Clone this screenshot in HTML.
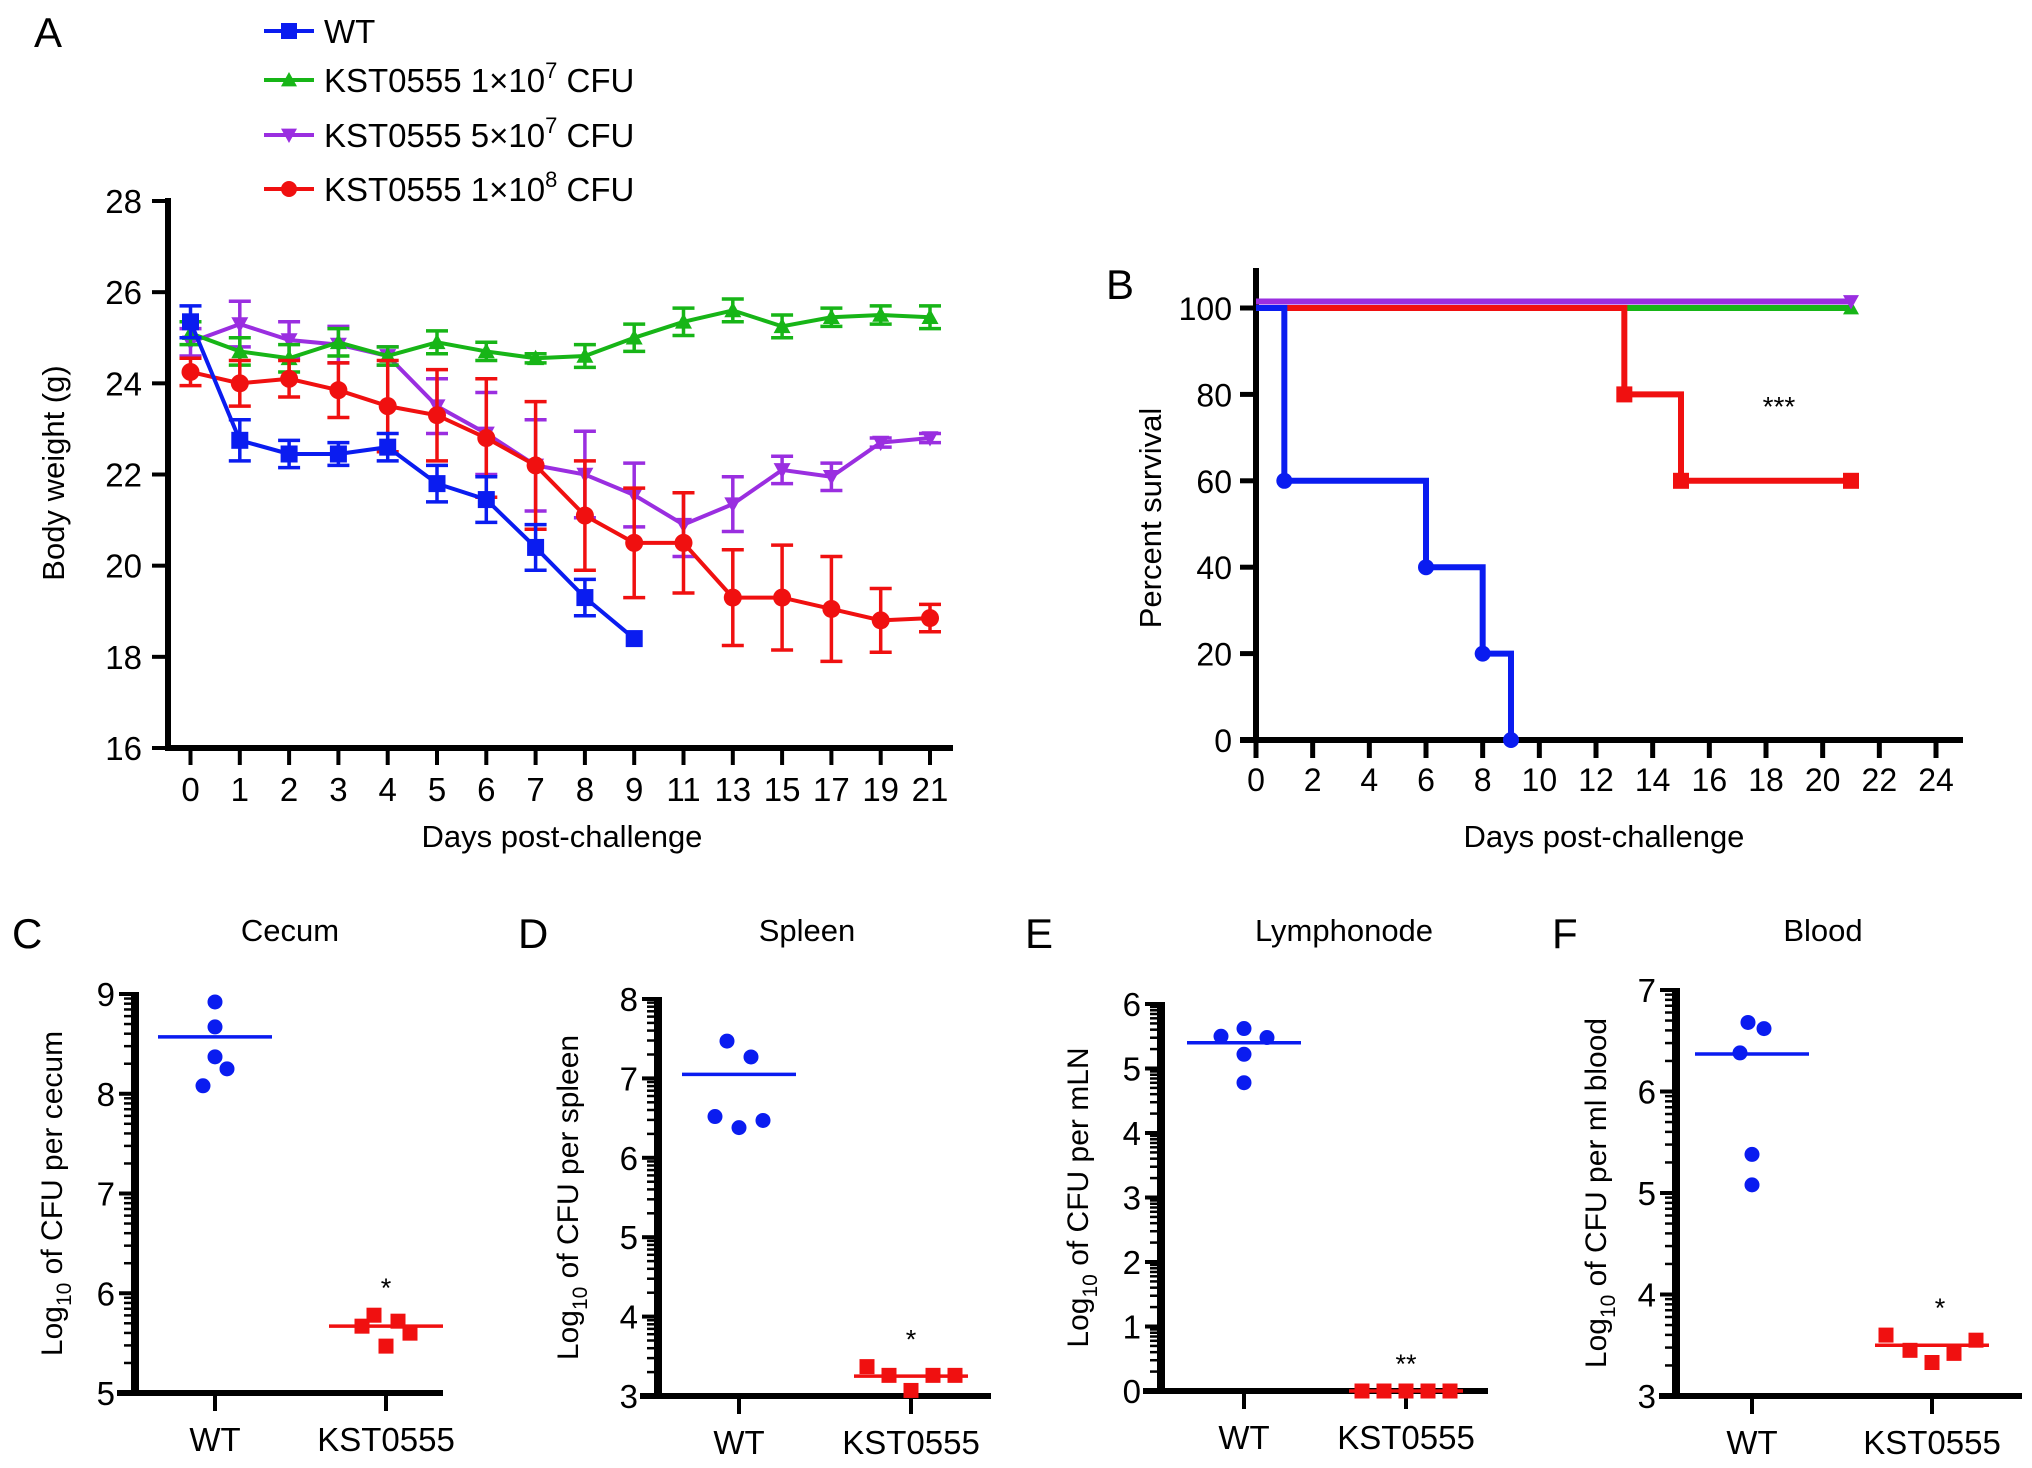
<!DOCTYPE html>
<html><head><meta charset="utf-8"><style>
html,body{margin:0;padding:0;background:#fff;overflow:hidden;}
svg{display:block;font-family:"Liberation Sans",Arial,sans-serif;}
</style></head><body>
<svg id="fig" width="2032" height="1468" viewBox="0 0 2032 1468" xmlns="http://www.w3.org/2000/svg"></svg>
<script>
// ---------- Panel A data ----------
const aDays = ["0","1","2","3","4","5","6","7","8","9","11","13","15","17","19","21"];
const aYTicks = [16,18,20,22,24,26,28];
const wtWeight = [25.35,22.75,22.45,22.45,22.6,21.8,21.45,20.4,19.3,18.4];
const wtErr = [0.35,0.45,0.3,0.25,0.3,0.4,0.5,0.5,0.4,0];
const g7Weight = [25.1,24.7,24.55,24.9,24.6,24.9,24.7,24.55,24.6,25.0,25.35,25.6,25.25,25.45,25.5,25.45];
const g7Err = [0.25,0.3,0.3,0.3,0.2,0.25,0.2,0.1,0.25,0.3,0.3,0.25,0.25,0.2,0.2,0.25];
const p5Weight = [24.9,25.3,24.95,24.85,24.6,23.5,22.9,22.2,22.0,21.55,20.9,21.35,22.1,21.95,22.7,22.8];
const p5Err = [0.3,0.5,0.4,0.4,0.2,0.6,0.9,1.0,0.95,0.7,0.7,0.6,0.3,0.3,0.1,0.1];
const r8Weight = [24.25,24.0,24.1,23.85,23.5,23.3,22.8,22.2,21.1,20.5,20.5,19.3,19.3,19.05,18.8,18.85];
const r8Err = [0.3,0.5,0.4,0.6,1.0,1.0,1.3,1.4,1.2,1.2,1.1,1.05,1.15,1.15,0.7,0.3];
// ---------- Panel B data ----------
const bXTicks = [0,2,4,6,8,10,12,14,16,18,20,22,24];
const bYTicks = [0,20,40,60,80,100];
const wtSurvT = [0,1,6,8,9];
const wtSurvV = [100,60,40,20,0];
const r8SurvT = [0,13,15,21];
const r8SurvV = [100,80,60,60];
const g7SurvT = [0,21];
const g7SurvV = [100,100];
const p5SurvT = [0,21];
const p5SurvV = [101.5,101.5];
// ---------- Panels C-F data ----------
const groups = ["WT","KST0555"];
const cecumWT = [8.92,8.67,8.37,8.25,8.08];
const cecumKST = [5.78,5.72,5.67,5.6,5.47];
const cecumLines = [8.57,5.67];
const spleenWT = [7.47,7.27,6.52,6.47,6.38];
const spleenKST = [3.37,3.26,3.26,3.26,3.07];
const spleenLines = [7.05,3.25];
const lnWT = [5.62,5.5,5.48,5.22,4.78];
const lnKST = [0,0,0,0,0];
const lnLines = [5.4,0];
const bloodWT = [6.68,6.62,6.38,5.38,5.08];
const bloodKST = [3.6,3.55,3.45,3.42,3.33];
const bloodLines = [6.37,3.5];

const NS="http://www.w3.org/2000/svg";
const svg=document.getElementById('fig');
function mk(tag,attrs,parent){const e=document.createElementNS(NS,tag);for(const k in attrs)e.setAttribute(k,attrs[k]);(parent||svg).appendChild(e);return e;}
function txt(s,attrs,parent){const e=mk('text',attrs,parent);e.textContent=s;return e;}
const BLUE="#0a1cf0",GREEN="#17b517",PURPLE="#9a2ee0",RED="#f01010";

// ============ Panel A ============
const gA=mk('g',{});


const aX0=190.5,aStep=(930-190.5)/15;
const ax=i=>aX0+i*aStep;
const ay=v=>748-(v-16)*(748-201)/12;
txt('A',{x:34,y:47,'font-size':42},gA);
mk('line',{x1:168,y1:198,x2:168,y2:751,stroke:'#000','stroke-width':6},gA);
mk('line',{x1:165,y1:748,x2:953,y2:748,stroke:'#000','stroke-width':6},gA);
aYTicks.forEach(t=>{mk('line',{x1:152,y1:ay(t),x2:168,y2:ay(t),stroke:'#000','stroke-width':4},gA);
 const e=txt(String(t),{x:142,y:ay(t)+12,'font-size':33,'text-anchor':'end'},gA);});
aDays.forEach((d,i)=>{mk('line',{x1:ax(i),y1:748,x2:ax(i),y2:765,stroke:'#000','stroke-width':4},gA);
 const e=txt(d,{x:ax(i),y:801,'font-size':33,'text-anchor':'middle'},gA);});
const yt=txt('Body weight (g)',{x:0,y:0,'font-size':31,'text-anchor':'middle',transform:'translate(64,473) rotate(-90)'},gA);

const xt=txt('Days post-challenge',{x:562,y:847,'font-size':31,'text-anchor':'middle'},gA);

function marker(type,x,y,col,s,parent){
 if(type==='sq')return mk('rect',{x:x-s,y:y-s,width:2*s,height:2*s,fill:col},parent);
 if(type==='ci')return mk('circle',{cx:x,cy:y,r:s,fill:col},parent);
 if(type==='tu')return mk('polygon',{points:`${x},${y-s} ${x-s},${y+s*0.8} ${x+s},${y+s*0.8}`,fill:col},parent);
 if(type==='td')return mk('polygon',{points:`${x},${y+s} ${x-s},${y-s*0.8} ${x+s},${y-s*0.8}`,fill:col},parent);
}
function series(vals,errs,col,type,name){
 const g=mk('g',{},gA);
 
 
 vals.forEach((v,i)=>{if(errs[i]>0){const x=ax(i),t=ay(v+errs[i]),b=ay(v-errs[i]);
  mk('line',{x1:x,y1:t,x2:x,y2:b,stroke:col,'stroke-width':3.5},g);
  mk('line',{x1:x-11,y1:t,x2:x+11,y2:t,stroke:col,'stroke-width':3.5},g);
  mk('line',{x1:x-11,y1:b,x2:x+11,y2:b,stroke:col,'stroke-width':3.5},g);}});
 mk('polyline',{points:vals.map((v,i)=>ax(i)+','+ay(v)).join(' '),fill:'none',stroke:col,'stroke-width':4},g);
 vals.forEach((v,i)=>{const m=marker(type,ax(i),ay(v),col,type==='ci'?9:8.5,g);});
}
series(p5Weight,p5Err,PURPLE,'td','series-5e7');
series(g7Weight,g7Err,GREEN,'tu','series-1e7');
series(r8Weight,r8Err,RED,'ci','series-1e8');
series(wtWeight,wtErr,BLUE,'sq','series-wt');
// legend
const legend=mk('g',{},gA);


const legItems=[[BLUE,'sq','WT',null],[GREEN,'tu','KST0555 1×10','7'],[PURPLE,'td','KST0555 5×10','7'],[RED,'ci','KST0555 1×10','8']];
const legY=[31,80,135,189];
legItems.forEach((it,k)=>{const g=mk('g',{},legend);
 
 
 const y=legY[k];
 mk('line',{x1:264,y1:y,x2:314,y2:y,stroke:it[0],'stroke-width':4},g);
 marker(it[1],289,y,it[0],8,g);
 const t=txt('',{x:324,y:y+12,'font-size':33},g);
 if(it[3]===null){t.textContent=it[2];}
 else{const a=document.createElementNS(NS,'tspan');a.textContent=it[2];t.appendChild(a);
  const s=document.createElementNS(NS,'tspan');s.setAttribute('dy','-14');s.setAttribute('font-size','22');s.textContent=it[3];t.appendChild(s);
  const c=document.createElementNS(NS,'tspan');c.setAttribute('dy','14');c.textContent=' CFU';t.appendChild(c);}
});

// ============ Panel B ============
const gB=mk('g',{});


const bx=t=>1256+t*(1936-1256)/24;
const by=v=>740-v*(740-308)/100;
txt('B',{x:1106,y:299,'font-size':42},gB);
mk('line',{x1:1256,y1:268,x2:1256,y2:743,stroke:'#000','stroke-width':6},gB);
mk('line',{x1:1240,y1:740,x2:1963,y2:740,stroke:'#000','stroke-width':6},gB);
bYTicks.forEach(t=>{mk('line',{x1:1240,y1:by(t),x2:1256,y2:by(t),stroke:'#000','stroke-width':5},gB);
 const e=txt(String(t),{x:1232,y:by(t)+12,'font-size':32,'text-anchor':'end'},gB);});
bXTicks.forEach(t=>{mk('line',{x1:bx(t),y1:740,x2:bx(t),y2:758,stroke:'#000','stroke-width':5},gB);
 const e=txt(String(t),{x:bx(t),y:791,'font-size':32,'text-anchor':'middle'},gB);});
txt('Percent survival',{x:0,y:0,'font-size':31,'text-anchor':'middle',transform:'translate(1161,518) rotate(-90)'},gB);
txt('Days post-challenge',{x:1604,y:847,'font-size':31,'text-anchor':'middle'},gB);
function step(T,V,col,name,mtype,midx){
 const g=mk('g',{},gB);
 
 
 let pts=[];for(let i=0;i<T.length;i++){if(i>0)pts.push(bx(T[i])+','+by(V[i-1]));pts.push(bx(T[i])+','+by(V[i]));}
 mk('polyline',{points:pts.join(' '),fill:'none',stroke:col,'stroke-width':6},g);
 midx.forEach(i=>{const m=marker(mtype,bx(T[i]),by(V[i]),col,8,g);});
}
step(g7SurvT,g7SurvV,GREEN,'survival-1e7','tu',[1]);
step(r8SurvT,r8SurvV,RED,'survival-1e8','sq',[1,2,3]);
step(p5SurvT,p5SurvV,PURPLE,'survival-5e7','td',[1]);
step(wtSurvT,wtSurvV,BLUE,'survival-wt','ci',[1,2,3,4]);
txt('***',{x:1779,y:416,'font-size':28,'text-anchor':'middle'},gB);

// ============ Panels C-F ============
function dotPanel(cfg){
 const g=mk('g',{});
 
 
 const yy=v=>cfg.y0-(v-cfg.min)*(cfg.y0-cfg.y1)/(cfg.max-cfg.min);
 txt(cfg.letter,{x:cfg.lx,y:948,'font-size':42},g);
 txt(cfg.title,{x:cfg.tx,y:941,'font-size':31,'text-anchor':'middle'},g);
 mk('line',{x1:cfg.ax,y1:cfg.y1-2,x2:cfg.ax,y2:cfg.y0+3,stroke:'#000','stroke-width':8},g);
 mk('line',{x1:cfg.xs,y1:cfg.y0,x2:cfg.xe,y2:cfg.y0,stroke:'#000','stroke-width':6},g);
 for(let t=cfg.min;t<=cfg.max;t++){
  mk('line',{x1:cfg.ax-16,y1:yy(t),x2:cfg.ax,y2:yy(t),stroke:'#000','stroke-width':4},g);
  const e=txt(String(t),{x:cfg.ax-20,y:yy(t)+12,'font-size':33,'text-anchor':'end'},g);
  
  if(t<cfg.max)for(let k=2;k<=9;k++){const y=yy(t+Math.log10(k));mk('line',{x1:cfg.ax-11,y1:y,x2:cfg.ax,y2:y,stroke:'#000','stroke-width':2.5},g);}
 }
 [cfg.wx,cfg.kx].forEach((x,i)=>{mk('line',{x1:x,y1:cfg.y0,x2:x,y2:cfg.y0+18,stroke:'#000','stroke-width':4},g);
  const e=txt(groups[i],{x:x,y:cfg.y0+58,'font-size':33,'text-anchor':'middle'},g);});
 const yt=txt('',{x:0,y:0,'font-size':30,'text-anchor':'middle',transform:`translate(${cfg.ytx},${(cfg.y0+cfg.y1)/2}) rotate(-90)`},g);
 
 const a=document.createElementNS(NS,'tspan');a.textContent='Log';yt.appendChild(a);
 const b=document.createElementNS(NS,'tspan');b.setAttribute('dy','9');b.setAttribute('font-size','21');b.textContent='10';yt.appendChild(b);
 const c=document.createElementNS(NS,'tspan');c.setAttribute('dy','-9');c.textContent=' of CFU per '+cfg.unit;yt.appendChild(c);
 const wm=cfg.lines[0];
 mk('line',{x1:cfg.wx-57,y1:yy(wm),x2:cfg.wx+57,y2:yy(wm),stroke:BLUE,'stroke-width':3.5},g);
 cfg.wt.forEach((v,i)=>{const m=mk('circle',{cx:cfg.wx+cfg.wOff[i],cy:yy(v),r:7.5,fill:BLUE},g);});
 const km=cfg.lines[1];
 mk('line',{x1:cfg.kx-57,y1:yy(km),x2:cfg.kx+57,y2:yy(km),stroke:RED,'stroke-width':3.5},g);
 cfg.kst.forEach((v,i)=>{const m=mk('rect',{x:cfg.kx+cfg.kOff[i]-7.5,y:yy(v)-7.5,width:15,height:15,fill:RED},g);});
 txt(cfg.sig,{x:cfg.kx+cfg.sigDx,y:yy(Math.max(...cfg.kst))-18,'font-size':27,'text-anchor':'middle'},g);
}
dotPanel({name:'panel-c-cecum',letter:'C',lx:12,title:'Cecum',tx:290,ax:135,y0:1393,y1:994,min:5,max:9,xs:117,xe:443,wx:215,kx:386,ytx:62,unit:'cecum',
 wt:cecumWT,kst:cecumKST,lines:cecumLines,wOff:[0,0,0,12,-12],kOff:[-12,12,-24,24,0],sig:'*',sigDx:0});
dotPanel({name:'panel-d-spleen',letter:'D',lx:518,title:'Spleen',tx:807,ax:658,y0:1396,y1:999,min:3,max:8,xs:640,xe:991,wx:739,kx:911,ytx:578,unit:'spleen',
 wt:spleenWT,kst:spleenKST,lines:spleenLines,wOff:[-12,12,-24,24,0],kOff:[-44,-22,22,44,0],sig:'*',sigDx:0});
dotPanel({name:'panel-e-lymphonode',letter:'E',lx:1025,title:'Lymphonode',tx:1344,ax:1161,y0:1391,y1:1004,min:0,max:6,xs:1143,xe:1488,wx:1244,kx:1406,ytx:1088,unit:'mLN',
 wt:lnWT,kst:lnKST,lines:lnLines,wOff:[0,-23,23,0,0],kOff:[-44,-22,0,22,44],sig:'**',sigDx:0});
dotPanel({name:'panel-f-blood',letter:'F',lx:1552,title:'Blood',tx:1823,ax:1676,y0:1396,y1:990,min:3,max:7,xs:1659,xe:2022,wx:1752,kx:1932,ytx:1606,unit:'ml blood',
 wt:bloodWT,kst:bloodKST,lines:bloodLines,wOff:[-4,12,-12,0,0],kOff:[-46,44,-22,22,0],sig:'*',sigDx:8});
</script>
</body></html>
